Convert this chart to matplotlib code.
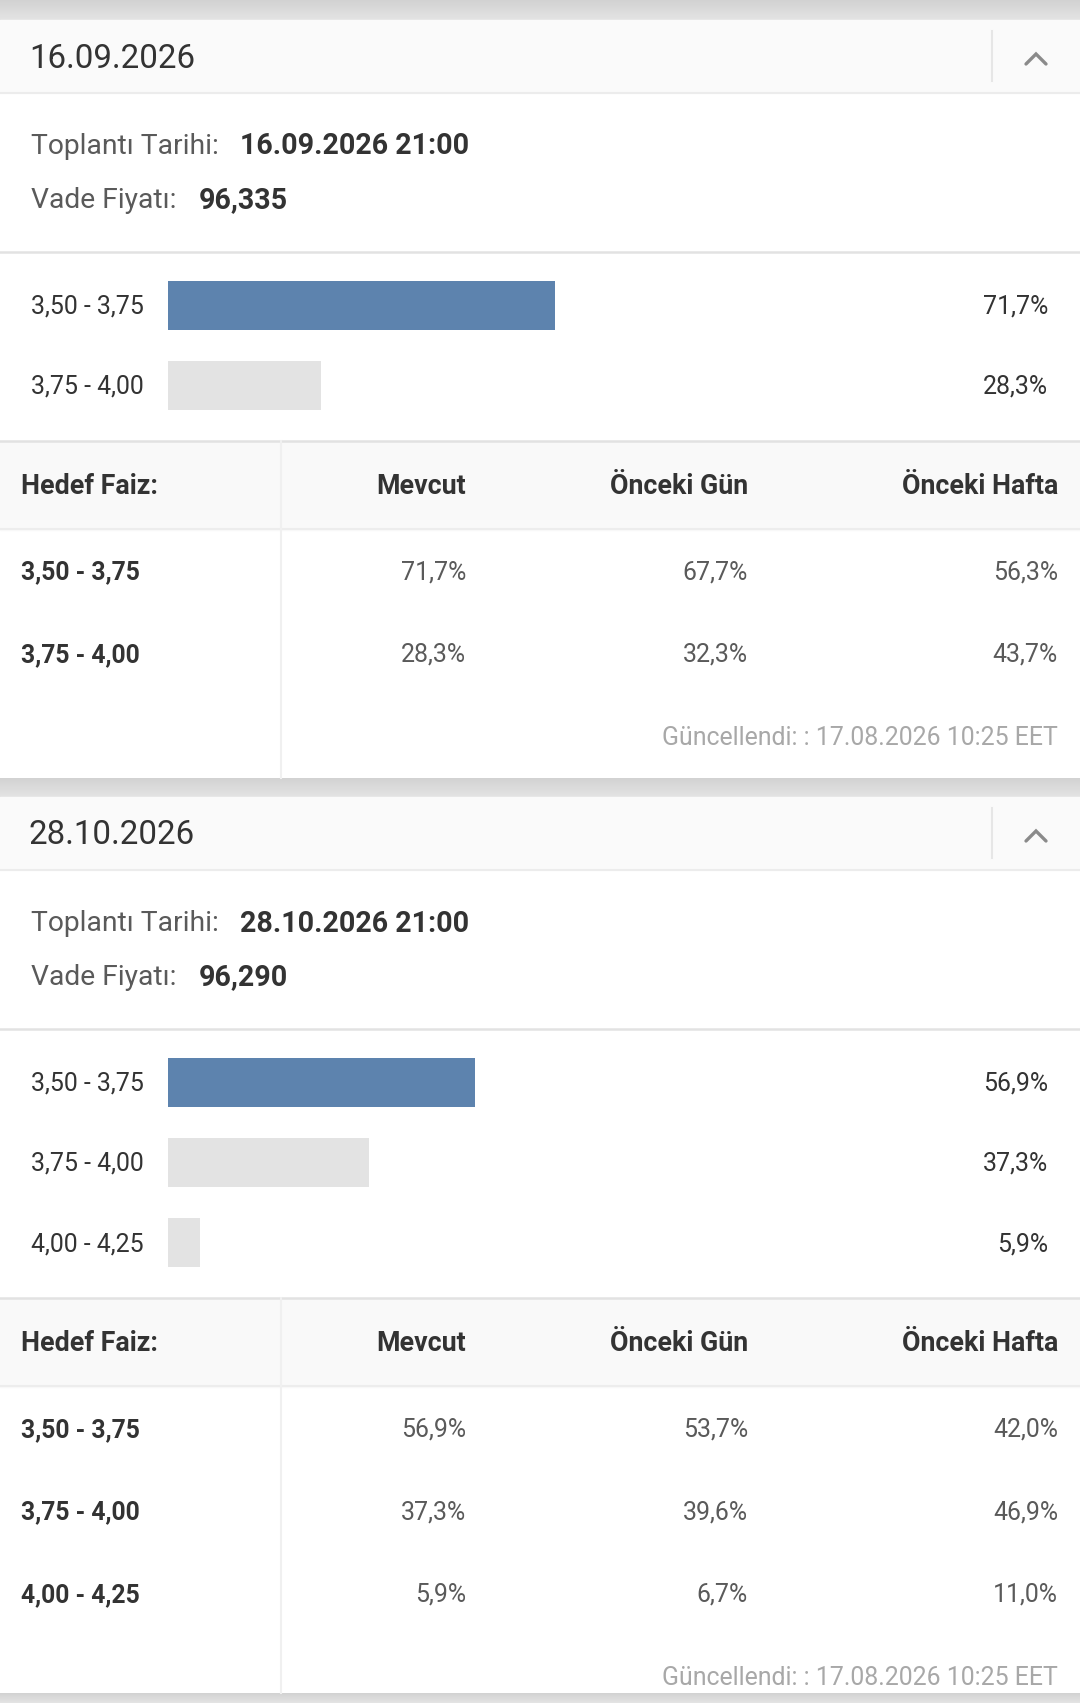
import numpy as np
import matplotlib.pyplot as plt
from matplotlib.patches import Rectangle
from matplotlib.colors import LinearSegmentedColormap

plt.rcParams['font.family'] = ['Roboto', 'DejaVu Sans']

W, H = 1080, 1703
DPI = 100

# --- veri ---
tarih_1 = "16.09.2026"
toplanti_1 = "16.09.2026 21:00"
vade_1 = "96,335"
araliklar_1 = ["3,50 - 3,75", "3,75 - 4,00"]
mevcut_1 = [71.7, 28.3]
onceki_gun_1 = [67.7, 32.3]
onceki_hafta_1 = [56.3, 43.7]

tarih_2 = "28.10.2026"
toplanti_2 = "28.10.2026 21:00"
vade_2 = "96,290"
araliklar_2 = ["3,50 - 3,75", "3,75 - 4,00", "4,00 - 4,25"]
mevcut_2 = [56.9, 37.3, 5.9]
onceki_gun_2 = [53.7, 39.6, 6.7]
onceki_hafta_2 = [42.0, 46.9, 11.0]

sutunlar = ["Hedef Faiz:", "Mevcut", "Önceki Gün", "Önceki Hafta"]
guncellendi = "Güncellendi: : 17.08.2026 10:25 EET"

MAVI = '#5d83ae'
GRI_BAR = '#e3e3e3'
KOYU = '#333333'
ORTA = '#5a5a5a'
ACIK = '#a8a8a8'
CIZGI = '#e2e2e2'
DY = 1.5  # metin dikey duzeltmesi


def pct(v):
    return f"{v:.1f}".replace('.', ',') + '%'


fig = plt.figure(figsize=(W / DPI, H / DPI), dpi=DPI)
fig.patch.set_facecolor('white')
bg = fig.add_axes([0, 0, 1, 1])
bg.set_xlim(0, W)
bg.set_ylim(H, 0)
bg.axis('off')

gri_cmap = LinearSegmentedColormap.from_list('g', ['#d2d2d2', '#e4e4e4'])


def gri_bant(y0, y1):
    grad = np.linspace(0, 1, 50).reshape(-1, 1)
    bg.imshow(grad, extent=[0, W, y1, y0], cmap=gri_cmap, aspect='auto', zorder=0)


def bolum(y0, tarih, toplanti, vade, araliklar, mevcut, onceki_gun, onceki_hafta, bitis):
    # baslik seridi
    bg.add_patch(Rectangle((0, y0), W, 73, color='#fafafa', zorder=1))
    bg.plot([0, W], [y0 + 73, y0 + 73], color='#ececec', lw=1.5, zorder=2)
    bg.plot([992, 992], [y0 + 11, y0 + 61], color='#e6e6e6', lw=1.5, zorder=2)
    bg.plot([1026, 1036, 1046], [y0 + 44, y0 + 34, y0 + 44], color='#8a8a8a', lw=2.4,
            solid_capstyle='round', solid_joinstyle='miter', zorder=3)
    bg.text(29, y0 + 37 + DY, tarih, fontsize=23.8, color=KOYU, va='center', ha='left')

    # toplanti bilgisi
    bg.text(31, y0 + 125 + DY, "Toplantı Tarihi:", fontsize=20.3, color=ORTA, va='center')
    bg.text(240, y0 + 125 + DY, toplanti, fontsize=20.6, color=KOYU, va='center', weight='bold')
    bg.text(31, y0 + 179 + DY, "Vade Fiyatı:", fontsize=20.3, color=ORTA, va='center')
    bg.text(199, y0 + 179 + DY, vade, fontsize=20.6, color=KOYU, va='center', weight='bold')
    bg.plot([0, W], [y0 + 232, y0 + 232], color=CIZGI, lw=1.8, zorder=2)

    # cubuklar
    n = len(araliklar)
    ilk = y0 + 285
    adim = 80.3
    ust = ilk - adim / 2
    alt = ust + n * adim
    ax = fig.add_axes([168 / W, 1 - alt / H, 540 / W, (alt - ust) / H])
    renkler = [MAVI if v == max(mevcut) else GRI_BAR for v in mevcut]
    ax.barh(np.arange(n), mevcut, height=49 / adim, color=renkler)
    ax.set_xlim(0, 100)
    ax.set_ylim(n - 0.5, -0.5)
    ax.axis('off')
    for i in range(n):
        yc = ilk + i * adim + DY
        bg.text(31, yc, araliklar[i], fontsize=17.9, color=KOYU, va='center')
        bg.text(1048, yc, pct(mevcut[i]), fontsize=17.9, color=KOYU, va='center', ha='right')

    # tablo
    t0 = alt + 15.5
    bg.plot([0, W], [t0, t0], color=CIZGI, lw=1.8, zorder=2)
    bg.add_patch(Rectangle((0, t0 + 1), W, 88, color='#f9f9f9', zorder=1))
    bg.plot([0, W], [t0 + 88, t0 + 88], color='#ededed', lw=1.5, zorder=2)
    bg.plot([281, 281], [t0, bitis], color='#f0f0f0', lw=1.5, zorder=2)
    kol_x = [21, 466, 748, 1058]
    hy = t0 + 44 + DY
    for j, s in enumerate(sutunlar):
        bg.text(kol_x[j], hy, s, fontsize=19.3, color=KOYU, weight='bold', va='center',
                ha='left' if j == 0 else 'right')
    for i in range(n):
        ry = t0 + 130 + i * 82.5 + DY
        bg.text(21, ry, araliklar[i], fontsize=17.8, color=KOYU, weight='bold', va='center')
        for j, seri in enumerate([mevcut, onceki_gun, onceki_hafta]):
            bg.text(kol_x[j + 1], ry, pct(seri[i]), fontsize=17.9, color=ORTA, va='center', ha='right')
    gy = t0 + 130 + n * 82.5 + 1 + DY
    bg.text(1058, gy, guncellendi, fontsize=17.9, color=ACIK, va='center', ha='right')


gri_bant(0, 20)
bolum(20, tarih_1, toplanti_1, vade_1, araliklar_1, mevcut_1, onceki_gun_1, onceki_hafta_1, 778)
gri_bant(778, 797)
bolum(797, tarih_2, toplanti_2, vade_2, araliklar_2, mevcut_2, onceki_gun_2, onceki_hafta_2, 1693)
gri_bant(1693, H)

fig.savefig('out.png', dpi=DPI, facecolor='white')
